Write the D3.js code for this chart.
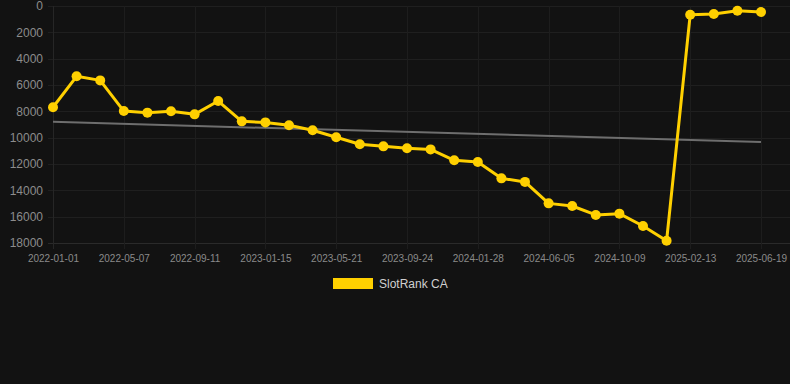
<!DOCTYPE html>
<html>
<head>
<meta charset="utf-8">
<script src="https://cdn.jsdelivr.net/npm/d3@7"></script>
<style>
  html, body { margin: 0; padding: 0; background: #121212; }
  svg { display: block; }
</style>
</head>
<body>
<svg id="chart" width="790" height="384"></svg>
<script>
const dates = [
  "2022-01-01","2022-02-12","2022-03-26","2022-05-07","2022-06-18","2022-07-30",
  "2022-09-11","2022-10-23","2022-12-04","2023-01-15","2023-02-26","2023-04-09",
  "2023-05-21","2023-07-02","2023-08-13","2023-09-24","2023-11-05","2023-12-17",
  "2024-01-28","2024-03-10","2024-04-21","2024-06-05","2024-07-17","2024-08-28",
  "2024-10-09","2024-11-20","2025-01-01","2025-02-13","2025-03-27","2025-05-08",
  "2025-06-19"
];
const rankValues = [
  7690, 5340, 5650, 7980, 8100, 8000, 8230, 7220, 8760, 8840, 9060, 9440,
  9970, 10500, 10660, 10810, 10890, 11720, 11850, 13090, 13360, 14990, 15190, 15870,
  15770, 16710, 17830, 660, 610, 360, 460
];
const trendDates = ["2022-01-01", "2025-06-19"];
const trendValues = [8800, 10330];
const yTicks = [0, 2000, 4000, 6000, 8000, 10000, 12000, 14000, 16000, 18000];
const xTickLabels = ["2022-01-01","2022-05-07","2022-09-11","2023-01-15","2023-05-21",
  "2023-09-24","2024-01-28","2024-06-05","2024-10-09","2025-02-13","2025-06-19"];
const seriesName = "SlotRank CA";

(function () {
const svg = d3.select("#chart");
const pLeft = 53, pRight = 761, pTop = 6, pBottom = 243, gridRight = 790;
const x = d3.scalePoint().domain(dates).range([pLeft, pRight]);
const y = d3.scaleLinear().domain([0, 18000]).range([pTop, pBottom]);
const font = "'Liberation Sans', Arial, Helvetica, sans-serif";

// horizontal grid
svg.append("g").selectAll("line").data(yTicks).join("line")
  .attr("x1", pLeft - 5).attr("x2", gridRight)
  .attr("y1", d => Math.round(y(d)) + 0.5).attr("y2", d => Math.round(y(d)) + 0.5)
  .attr("stroke", d => d === 18000 ? "#2a2a2a" : "#1f1f1f").attr("stroke-width", 1);

// vertical grid
svg.append("g").selectAll("line").data(xTickLabels).join("line")
  .attr("x1", d => Math.round(x(d)) + 0.5).attr("x2", d => Math.round(x(d)) + 0.5)
  .attr("y1", pTop).attr("y2", pBottom + 6)
  .attr("stroke", (d, i) => i === 0 ? "#262626" : "#1d1d1d").attr("stroke-width", 1);

// y axis labels
const yAxis = d3.axisLeft(y).tickValues(yTicks).tickSize(0).tickPadding(0).tickFormat(d3.format("d"));
svg.append("g").attr("transform", "translate(43,0)").call(yAxis)
  .call(g => g.select(".domain").remove())
  .selectAll("text").attr("fill", "#8c8c8c").attr("font-size", 12).attr("font-family", font);

// x axis labels
const xAxis = d3.axisBottom(x).tickValues(xTickLabels).tickSize(0).tickPadding(0);
svg.append("g").attr("transform", "translate(0,255)").call(xAxis)
  .call(g => g.select(".domain").remove())
  .selectAll("text").attr("fill", "#8a8a8a").attr("font-size", 10).attr("font-family", font);

// trend line
svg.append("path")
  .datum(trendDates.map((d, i) => [d, trendValues[i]]))
  .attr("d", d3.line().x(d => x(d[0])).y(d => y(d[1])))
  .attr("fill", "none").attr("stroke", "#6e6e6e").attr("stroke-width", 2);

// series line
const pts = dates.map((d, i) => [d, rankValues[i]]);
svg.append("path").datum(pts)
  .attr("d", d3.line().x(d => x(d[0])).y(d => y(d[1])))
  .attr("fill", "none").attr("stroke", "#ffd000").attr("stroke-width", 3)
  .attr("stroke-linejoin", "round");

svg.append("g").selectAll("circle").data(pts).join("circle")
  .attr("cx", d => x(d[0])).attr("cy", d => y(d[1])).attr("r", 5)
  .attr("fill", "#ffd000");

// legend
const lg = svg.append("g");
lg.append("rect").attr("x", 333).attr("y", 278).attr("width", 40).attr("height", 11).attr("fill", "#ffd000");
lg.append("text").attr("x", 379).attr("y", 288).text(seriesName)
  .attr("fill", "#d0d0d0").attr("font-size", 12).attr("font-family", font);
})();
</script>
</body>
</html>
